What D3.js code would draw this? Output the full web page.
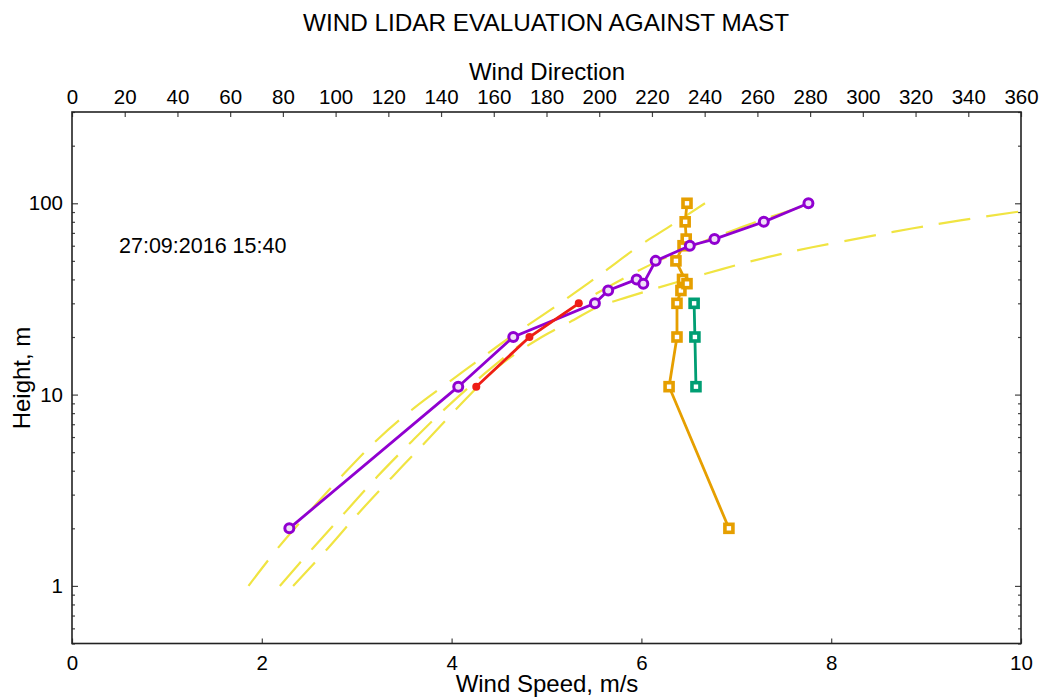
<!DOCTYPE html>
<html>
<head>
<meta charset="utf-8">
<script src="https://cdn.jsdelivr.net/npm/d3@7"></script>
<style>
  html, body { margin: 0; padding: 0; background: #fff; }
  svg { display: block; font-family: "Liberation Sans", Arial, sans-serif; }
</style>
</head>
<body>
<svg id="chart" width="1047" height="698"></svg>
<script>
// ---------- data ----------
const titleText = "WIND LIDAR EVALUATION AGAINST MAST";
const stampText = "27:09:2016 15:40";

const speedTicks = [0, 2, 4, 6, 8, 10];
const dirTicks = [0, 20, 40, 60, 80, 100, 120, 140, 160, 180, 200, 220, 240, 260, 280, 300, 320, 340, 360];
const heightTicks = [1, 10, 100];

// lidar (purple speed, orange direction)
const lidarHeights = [2, 11, 20, 30, 35, 40, 38, 50, 60, 65, 80, 100];
const lidarSpeed   = [2.29, 4.07, 4.65, 5.51, 5.65, 5.95, 6.02, 6.15, 6.51, 6.77, 7.29, 7.76];
const lidarDir     = [249.2, 226.5, 229.5, 229.5, 231.0, 231.6, 233.3, 229.1, 231.8, 233.0, 232.6, 233.3];

// mast (red speed, green direction)
const mastHeights = [11, 20, 30];
const mastSpeed   = [4.26, 4.82, 5.34];
const mastDir     = [236.7, 236.3, 236.0];

// fitted profiles (yellow dashed)
const profAHeights = [1, 1.6, 2.77, 3.83, 5.83, 8.55, 12, 14.7, 20, 29.5, 42.2, 60.5, 74.2, 100];
const profASpeed   = [1.86, 2.18, 2.60, 2.86, 3.22, 3.61, 4.01, 4.25, 4.62, 5.12, 5.56, 5.99, 6.27, 6.67];
const profBHeights = [1, 1.58, 2.43, 3.74, 5.69, 8.6, 12.9, 19.5, 28, 38, 50, 63, 72.3, 81.3, 100];
const profBSpeed   = [2.19, 2.54, 2.88, 3.22, 3.58, 3.95, 4.35, 4.80, 5.26, 5.71, 6.18, 6.65, 6.97, 7.25, 7.80];
const profCHeights = [1, 1.56, 2.4, 3.69, 5.62, 9.6, 14.1, 20, 24, 28.7, 32.4, 38.8, 45.3, 52.3, 58.9, 66.5, 73.8, 81.4, 90.8];
const profCSpeed   = [2.33, 2.69, 3.02, 3.37, 3.72, 4.16, 4.50, 4.95, 5.25, 5.54, 5.86, 6.38, 6.85, 7.33, 7.80, 8.36, 8.85, 9.36, 10.0];

// ---------- layout ----------
const svg = d3.select("#chart");
const L = 72, R = 1021, T = 112, B = 643.5;

const xSpeed = d3.scaleLinear().domain([0, 10]).range([L, R]);
const xDir = d3.scaleLinear().domain([0, 360]).range([L, R]);
const y = d3.scaleLog().domain([0.5, 300]).range([B, T]);

const minorTicks = [];
[0.1, 1, 10, 100].forEach(d => { for (let k = 2; k <= 9; k++) { const v = d * k; if (v >= 0.5 && v <= 300 && ![1,10,100].includes(v)) minorTicks.push(v); } });

const colPurple = "#9000D0", colRed = "#EE1D16", colOrange = "#E69F00", colGreen = "#009E73", colYellow = "#F0E442";

svg.append("defs").append("clipPath").attr("id", "plotclip")
  .append("rect").attr("x", L).attr("y", T).attr("width", R - L).attr("height", B - T);

// ---------- axes ----------
function styleAxis(g, fs) {
  g.select(".domain").remove();
  g.selectAll(".tick line").attr("stroke", "#444").attr("stroke-width", 1.2);
  g.selectAll(".tick text").attr("fill", "#000").style("font-size", fs + "px").style("font-family", '"Liberation Sans", Arial, sans-serif');
}

svg.append("g").attr("transform", `translate(0,${B})`)
  .call(d3.axisBottom(xSpeed).tickValues(speedTicks).tickSize(-5).tickPadding(12).tickFormat(d3.format("d")))
  .call(g => styleAxis(g, 20.5));

svg.append("g").attr("transform", `translate(0,${T})`)
  .call(d3.axisTop(xDir).tickValues(dirTicks).tickSize(-5).tickPadding(8).tickFormat(d3.format("d")))
  .call(g => styleAxis(g, 20.5));

svg.append("g").attr("transform", `translate(${L},0)`)
  .call(d3.axisLeft(y).tickValues(heightTicks).tickSize(-6).tickPadding(9).tickFormat(d3.format("d")))
  .call(g => styleAxis(g, 20.5));
svg.append("g").attr("transform", `translate(${L},0)`)
  .call(d3.axisLeft(y).tickValues(minorTicks).tickSize(-3).tickFormat(""))
  .call(g => styleAxis(g, 20));
svg.append("g").attr("transform", `translate(${R},0)`)
  .call(d3.axisRight(y).tickValues(heightTicks).tickSize(-6).tickFormat(""))
  .call(g => styleAxis(g, 20));
svg.append("g").attr("transform", `translate(${R},0)`)
  .call(d3.axisRight(y).tickValues(minorTicks).tickSize(-3).tickFormat(""))
  .call(g => styleAxis(g, 20));

// frame
svg.append("rect").attr("x", L).attr("y", T).attr("width", R - L).attr("height", B - T)
  .attr("fill", "none").attr("stroke", "#222").attr("stroke-width", 1.6);

// ---------- text ----------
svg.append("text").attr("x", 546).attr("y", 31).attr("text-anchor", "middle")
  .style("font-size", "24.3px").text(titleText);
svg.append("text").attr("x", 547).attr("y", 80).attr("text-anchor", "middle")
  .style("font-size", "24px").text("Wind Direction");
svg.append("text").attr("x", 547).attr("y", 692).attr("text-anchor", "middle")
  .style("font-size", "24px").text("Wind Speed, m/s");
svg.append("text").attr("transform", `translate(30,${378}) rotate(-90)`).attr("text-anchor", "middle")
  .style("font-size", "24px").text("Height, m");
svg.append("text").attr("x", 119).attr("y", 253)
  .style("font-size", "21.5px").text(stampText);

// ---------- profiles ----------
const plot = svg.append("g").attr("clip-path", "url(#plotclip)");
const profLine = d3.line().x(d => xSpeed(d[0])).y(d => y(d[1])).curve(d3.curveCatmullRom.alpha(0.5));
[[profASpeed, profAHeights], [profBSpeed, profBHeights], [profCSpeed, profCHeights]].forEach(([s, h]) => {
  plot.append("path").datum(d3.zip(s, h)).attr("d", profLine)
    .attr("fill", "none").attr("stroke", colYellow).attr("stroke-width", 2.2)
    .attr("stroke-dasharray", "32,16");
});

// ---------- series ----------
const lineSpeed = d3.line().x(d => xSpeed(d[0])).y(d => y(d[1]));

function squares(data, scale, col) {
  plot.append("path").datum(data).attr("d", d3.line().x(d => scale(d[0])).y(d => y(d[1])))
    .attr("fill", "none").attr("stroke", col).attr("stroke-width", 2.8);
  plot.selectAll(null).data(data).enter().append("rect")
    .attr("x", d => scale(d[0]) - 4).attr("y", d => y(d[1]) - 4)
    .attr("width", 8).attr("height", 8)
    .attr("fill", "#fff").attr("stroke", col).attr("stroke-width", 3.6);
}

squares(d3.zip(lidarDir, lidarHeights), xDir, colOrange);
squares(d3.zip(mastDir, mastHeights), xDir, colGreen);

const lidarPts = d3.zip(lidarSpeed, lidarHeights);
plot.append("path").datum(lidarPts).attr("d", lineSpeed)
  .attr("fill", "none").attr("stroke", colPurple).attr("stroke-width", 2.8);
plot.selectAll(null).data(lidarPts).enter().append("circle")
  .attr("cx", d => xSpeed(d[0])).attr("cy", d => y(d[1])).attr("r", 4.5)
  .attr("fill", "#f0e0f8").attr("stroke", colPurple).attr("stroke-width", 3);

const mastPts = d3.zip(mastSpeed, mastHeights);
plot.append("path").datum(mastPts).attr("d", lineSpeed)
  .attr("fill", "none").attr("stroke", colRed).attr("stroke-width", 2.8);
plot.selectAll(null).data(mastPts).enter().append("circle")
  .attr("cx", d => xSpeed(d[0])).attr("cy", d => y(d[1])).attr("r", 4)
  .attr("fill", colRed);
</script>
</body>
</html>
